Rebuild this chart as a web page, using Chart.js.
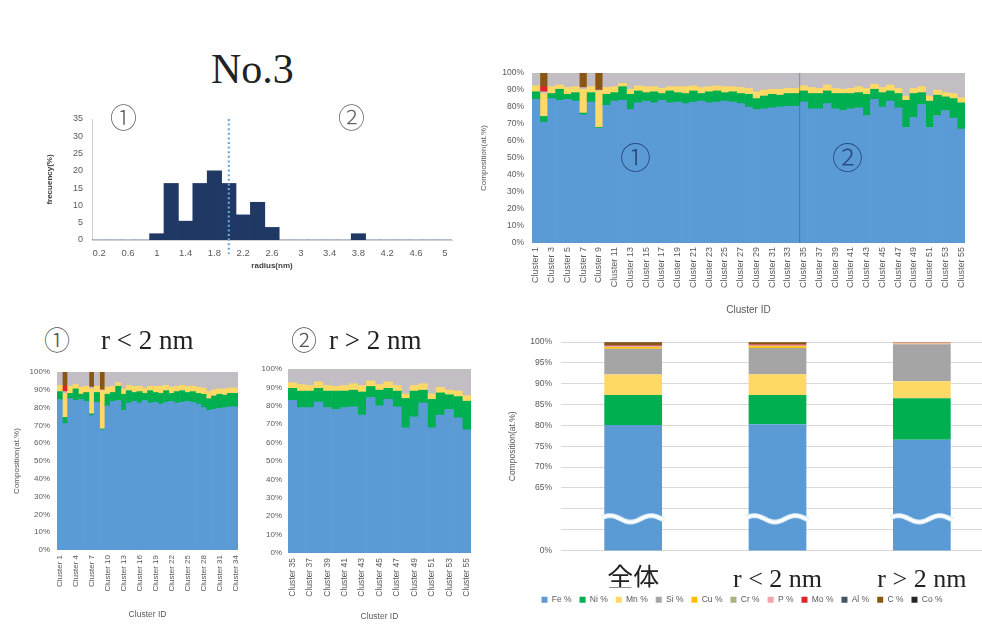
<!DOCTYPE html>
<html><head><meta charset="utf-8">
<script src="https://cdn.jsdelivr.net/npm/chart.js@4.4.1/dist/chart.umd.min.js"></script>
<style>
body{margin:0;width:982px;height:628px;overflow:hidden;position:relative;background:#fff;font-family:'Liberation Serif',serif;color:#222;}
canvas{position:absolute;}
.txt{position:absolute;white-space:nowrap;line-height:1;z-index:2;}
.circ{font-family:'Noto Sans CJK JP',sans-serif;font-weight:300;}
</style></head><body>
<canvas id="hist" width="420" height="172" style="left:40px;top:100px"></canvas>
<canvas id="all" width="504" height="260" style="left:478px;top:60px"></canvas>
<canvas id="small" width="250" height="270" style="left:0px;top:358px"></canvas>
<canvas id="large" width="232" height="273" style="left:250px;top:355px"></canvas>
<canvas id="avg" width="520" height="286" style="left:490px;top:328px"></canvas>

<div class="txt" style="left:211px;top:48px;font-size:42px;">No.3</div>
<div class="txt circ" style="left:110px;top:103px;font-size:27px;color:#666">①</div>
<div class="txt circ" style="left:338px;top:103px;font-size:27px;color:#666">②</div>
<div class="txt circ" style="left:620px;top:140px;font-size:31px;color:#2a4a80">①</div>
<div class="txt circ" style="left:832px;top:140px;font-size:31px;color:#2a4a80">②</div>
<div class="txt circ" style="left:44px;top:326px;font-size:26px;color:#555">①</div>
<div class="txt" style="left:101px;top:327px;font-size:27px;">r &lt; 2 nm</div>
<div class="txt circ" style="left:291px;top:326px;font-size:26px;color:#555">②</div>
<div class="txt" style="left:329px;top:327px;font-size:27px;">r &gt; 2 nm</div>

<script>
// ---------- Histogram data ----------
const binLabels = ['0.2','0.4','0.6','0.8','1','1.2','1.4','1.6','1.8','2','2.2','2.4','2.6','2.8','3','3.2','3.4','3.6','3.8','4','4.2','4.4','4.6','4.8','5'];
const frequency = [0,0,0,0,1.82,16.36,5.45,16.36,20,16.36,7.27,10.91,3.64,0,0,0,0,0,1.82,0,0,0,0,0,0];
const splitBin = '2';

// ---------- Cluster composition data (clusters 1..55, at.%) ----------
const clusterLabels = Array.from({length: 55}, (_, i) => 'Cluster ' + (i + 1));
const feValues = [84.5,71,85,84,84.5,83.5,75.5,83,67.5,81,83.5,84,78.5,82.5,83.5,82.5,84,82.5,83,82,
  83,83.5,82.5,83,83.5,83,82,80,78.5,79,79.5,80,80.5,80.5,
  83,79,79,82,79,78,79,79.5,75,84.5,80,83.5,79.5,68,74,81.5,68,75,78,73.5,67];
const niValues = [4.5,3.5,3,6.5,3,5,1,5.5,0.5,6.5,5,8,9,7,5,6.5,4,7,5.5,6,
  6.5,4.5,6.5,6.5,5,6,6,7.5,6.5,7.5,8,7,7.5,7.5,
  6.5,9,9,7.5,9,10,9,9,12.5,6,8.5,6,8.5,16,14,7,15.5,12,8,11.5,15.5];
const mnValues = [3.5,13.5,4,2.5,4,3.5,14,3.5,21.5,4,3.5,2,3,3,3.5,3,3,2.5,3.5,4,
  3,3.5,3,3,3.5,3,3.5,3.5,4,3.5,3,3.5,3,3,
  3,3.5,3,3.5,3,2.5,3,3.5,3.5,3,3,3.5,3,2.5,3,3.5,3,3,2.5,3,3];
const siValues = [7.5,1,8,7,8.5,8,1,8,0.5,8.5,8,6,9.5,7.5,8,8,9,8,8,8,
  7.5,8.5,8,7.5,8,8,8.5,9,11,10,9.5,9.5,9,9,
  7.5,8.5,9,7,9,9.5,9,8,9,6.5,8.5,7,9,13.5,9,8,13.5,10,11.5,12,14.5];
const moValues = [0,3,0,0,0,0,0,0,0,0,0,0,0,0,0,0,0,0,0,0,
  0,0,0,0,0,0,0,0,0,0,0,0,0,0,
  0,0,0,0,0,0,0,0,0,0,0,0,0,0,0,0,0,0,0,0,0];
const cValues = [0,8,0,0,0,0,8.5,0,10,0,0,0,0,0,0,0,0,0,0,0,
  0,0,0,0,0,0,0,0,0,0,0,0,0,0,
  0,0,0,0,0,0,0,0,0,0,0,0,0,0,0,0,0,0,0,0,0];
const group1Count = 34; // clusters 1..34 : r < 2 nm

// ---------- Average composition data ----------
const avgLabels = ['全体', 'r < 2 nm', 'r > 2 nm'];
const elementNames = ['Fe %','Ni %','Mn %','Si %','Cu %','Cr %','P %','Mo %','Al %','C %','Co %'];
const avgFe = [80.1, 80.3, 76.6];
const avgNi = [7.2, 7.0, 9.9];
const avgMn = [4.9, 5.0, 4.1];
const avgSi = [6.2, 6.3, 8.9];
const avgCu = [0.4, 0.4, 0.1];
const avgCr = [0.1, 0.1, 0.05];
const avgP  = [0.1, 0.1, 0.25];
const avgMo = [0.2, 0.2, 0.05];
const avgAl = [0.1, 0.05, 0.02];
const avgC  = [0.6, 0.5, 0.01];
const avgCo = [0.1, 0.05, 0.02];
const breakValue = 57.6;

// ---------- Colours ----------
const C_FE = '#5B9BD5', C_NI = '#00B050', C_MN = '#FFD966', C_SI = '#A5A5A5', C_SI_CL = '#C2BEC4',
      C_CU = '#FFC000', C_CR = '#A9B27C', C_P = '#F4A3AE', C_MO = '#E0202F', C_AL = '#44546A',
      C_C = '#8B5512', C_CO = '#262626';

Chart.defaults.font.family = "'Liberation Sans', Arial, sans-serif";
Chart.defaults.color = '#595959';
Chart.defaults.animation = false;

const fixW = w => s => { s.width = w; };
const fixH = h => s => { s.height = h; };

// ---------- Histogram ----------
const splitLinePlugin = {
  id: 'splitLine',
  afterDatasetsDraw(chart) {
    const ctx = chart.ctx;
    const x = chart.scales.x.getPixelForValue(binLabels.indexOf(splitBin));
    const top = chart.scales.y.getPixelForValue(35);
    const bottom = chart.chartArea.bottom + 14;
    ctx.save();
    ctx.strokeStyle = '#6AA6DA';
    ctx.lineWidth = 2.2;
    ctx.setLineDash([2, 2.6]);
    ctx.beginPath(); ctx.moveTo(x, top); ctx.lineTo(x, bottom); ctx.stroke();
    ctx.restore();
  }
};
new Chart(document.getElementById('hist'), {
  type: 'bar',
  data: { labels: binLabels, datasets: [{ data: frequency, backgroundColor: '#1F3864', barPercentage: 1, categoryPercentage: 1, borderWidth: 0 }] },
  options: {
    responsive: false, devicePixelRatio: 1,
    layout: { padding: { top: 19, right: 8, left: 0, bottom: 0 } },
    plugins: { legend: { display: false }, tooltip: { enabled: false } },
    scales: {
      x: {
        grid: { display: false, drawTicks: false },
        border: { display: true, color: '#D0D0D0' },
        ticks: { autoSkip: false, maxRotation: 0, padding: 8, font: { size: 9.5 },
          callback: function (v, i) { return i % 2 === 0 ? this.getLabelForValue(v) : ''; } },
        title: { display: true, text: 'radius(nm)', font: { size: 8, weight: 'bold' }, color: '#404040', padding: { top: 0, bottom: 1 } },
        afterFit: fixH(32)
      },
      y: {
        min: 0, max: 35,
        grid: { display: false, drawTicks: false },
        border: { display: true, color: '#D0D0D0' },
        ticks: { stepSize: 5, padding: 9, font: { size: 9 } },
        title: { display: true, text: 'frecuency(%)', font: { size: 8, weight: 'bold' }, color: '#404040', padding: { top: 5, bottom: 0 } },
        afterFit: fixW(52)
      }
    }
  },
  plugins: [splitLinePlugin]
});

// ---------- Cluster charts ----------
function clusterDatasets(from, to) {
  const sl = a => a.slice(from, to);
  const base = { borderWidth: 0, barPercentage: 1, categoryPercentage: 1 };
  return [
    Object.assign({ label: 'Fe %', data: sl(feValues), backgroundColor: C_FE }, base),
    Object.assign({ label: 'Ni %', data: sl(niValues), backgroundColor: C_NI }, base),
    Object.assign({ label: 'Mn %', data: sl(mnValues), backgroundColor: C_MN }, base),
    Object.assign({ label: 'Si %', data: sl(siValues), backgroundColor: C_SI_CL }, base),
    Object.assign({ label: 'Mo %', data: sl(moValues), backgroundColor: C_MO }, base),
    Object.assign({ label: 'C %', data: sl(cValues), backgroundColor: C_C }, base)
  ];
}
function clusterChart(id, from, to, cfg) {
  return new Chart(document.getElementById(id), {
    type: 'bar',
    data: { labels: clusterLabels.slice(from, to), datasets: clusterDatasets(from, to) },
    options: {
      responsive: false, devicePixelRatio: 1,
      layout: { padding: { top: cfg.padTop, right: cfg.padRight, left: 0, bottom: 0 } },
      plugins: { legend: { display: false }, tooltip: { enabled: false } },
      scales: {
        x: {
          stacked: true,
          grid: { display: false, drawTicks: false },
          border: { display: false },
          ticks: { autoSkip: false, minRotation: 90, maxRotation: 90, padding: cfg.xPad, font: { size: cfg.xFont },
            callback: function (v, i) { return i % cfg.every === 0 ? this.getLabelForValue(v) : ''; } },
          title: { display: true, text: 'Cluster ID', font: { size: cfg.titleFont }, padding: { top: 0, bottom: cfg.xTitlePad } },
          afterFit: fixH(cfg.xH)
        },
        y: {
          stacked: true, min: 0, max: 100,
          grid: { display: false, drawTicks: false },
          border: { display: false },
          ticks: { stepSize: 10, padding: cfg.yPad, font: { size: cfg.yFont }, callback: v => v + '%' },
          title: { display: cfg.yTitle, text: 'Composition(at.%)', font: { size: 8 }, padding: { top: cfg.yTitlePad, bottom: 0 } },
          afterFit: fixW(cfg.yW)
        }
      }
    },
    plugins: cfg.plugins || []
  });
}
const separatorPlugin = {
  id: 'separator',
  afterDatasetsDraw(chart) {
    const xs = chart.scales.x, ctx = chart.ctx;
    const x = (xs.getPixelForValue(group1Count - 1) + xs.getPixelForValue(group1Count)) / 2;
    ctx.save();
    ctx.strokeStyle = 'rgba(50,60,90,0.4)';
    ctx.lineWidth = 1;
    ctx.beginPath(); ctx.moveTo(x, chart.chartArea.top); ctx.lineTo(x, chart.chartArea.bottom); ctx.stroke();
    ctx.restore();
  }
};
clusterChart('all', 0, 55, { padTop: 12, padRight: 17, xPad: 4, xFont: 9, every: 2, titleFont: 10, xTitlePad: 4, xH: 77,
  yPad: 8, yFont: 8.5, yTitle: true, yTitlePad: 1, yW: 54, plugins: [separatorPlugin] });
clusterChart('small', 0, group1Count, { padTop: 14, padRight: 2, xPad: 5, xFont: 8, every: 3, titleFont: 8.5, xTitlePad: 8, xH: 78,
  yPad: 7, yFont: 8, yTitle: true, yTitlePad: 12, yW: 57 });
clusterChart('large', group1Count, 55, { padTop: 14, padRight: 9, xPad: 5, xFont: 8.5, every: 2, titleFont: 8.5, xTitlePad: 6, xH: 75,
  yPad: 6, yFont: 8, yTitle: false, yTitlePad: 0, yW: 38 });

// ---------- Average composition chart ----------
const wavePlugin = {
  id: 'wave',
  afterDatasetsDraw(chart) {
    const ctx = chart.ctx;
    const y0 = chart.scales.y.getPixelForValue(breakValue);
    chart.getDatasetMeta(0).data.forEach(bar => {
      const w = bar.width + 4, x0 = bar.x - w / 2;
      ctx.save();
      ctx.beginPath();
      for (let k = 0; k <= 60; k++) {
        const t = k / 60;
        const px = x0 + t * w, py = y0 - 3.2 * Math.sin(t * Math.PI * 3 + 0.4);
        if (k === 0) ctx.moveTo(px, py); else ctx.lineTo(px, py);
      }
      ctx.strokeStyle = '#D6EAF8'; ctx.lineWidth = 5; ctx.stroke();
      ctx.strokeStyle = '#FFFFFF'; ctx.lineWidth = 2.6; ctx.stroke();
      ctx.restore();
    });
  }
};
const avgSeries = [avgFe, avgNi, avgMn, avgSi, avgCu, avgCr, avgP, avgMo, avgAl, avgC, avgCo];
const avgColors = [C_FE, C_NI, C_MN, C_SI, C_CU, C_CR, C_P, C_MO, C_AL, C_C, C_CO];
new Chart(document.getElementById('avg'), {
  type: 'bar',
  data: {
    labels: avgLabels,
    datasets: avgSeries.map((d, i) => ({ label: elementNames[i], data: d, backgroundColor: avgColors[i], borderWidth: 0,
      barPercentage: 0.4, categoryPercentage: 1, clip: 0 }))
  },
  options: {
    responsive: false, devicePixelRatio: 1,
    layout: { padding: { top: 12, right: 16, left: 0, bottom: 0 } },
    plugins: {
      tooltip: { enabled: false },
      legend: { position: 'bottom', labels: { boxWidth: 6, boxHeight: 6, padding: 8, font: { size: 8.5 }, color: '#595959' } }
    },
    scales: {
      x: {
        stacked: true,
        grid: { display: false, drawTicks: false },
        border: { display: false },
        ticks: { padding: 14, color: '#222', font: { family: "'Liberation Serif','Noto Sans CJK JP',serif", size: 26 } },
        afterFit: fixH(37)
      },
      y: {
        stacked: true, min: 50, max: 100,
        grid: { color: '#D9D9D9', drawTicks: false },
        border: { display: false },
        ticks: { stepSize: 5, padding: 9, font: { size: 8.5 },
          callback: v => v >= 65 ? v + '%' : (v === 50 ? '0%' : '') },
        title: { display: true, text: 'Composition(at.%)', font: { size: 8.5 }, padding: { top: 18, bottom: 0 } },
        afterFit: fixW(71)
      }
    }
  },
  plugins: [wavePlugin]
});
</script>
</body></html>
